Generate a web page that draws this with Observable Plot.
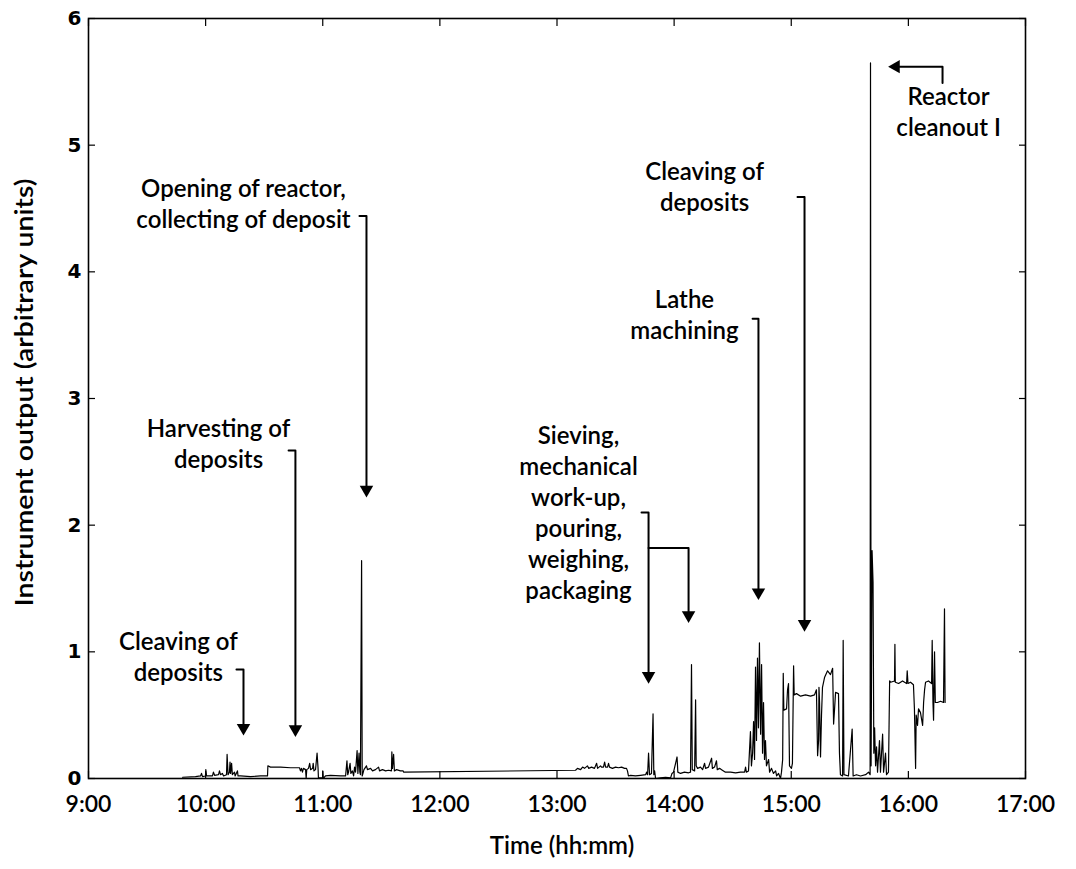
<!DOCTYPE html>
<html><head><meta charset="utf-8">
<script src="https://cdn.jsdelivr.net/npm/d3@7"></script>
<script src="https://cdn.jsdelivr.net/npm/@observablehq/plot@0.6"></script>
<style>
body{margin:0;background:#fff;}
#chart svg{display:block}
</style></head><body><div id="chart"></div>
<script>
// Readings: [minutes after 09:00, instrument output]
const morningReadings = [[48.2,0.01],[54.8,0.015],[57.4,0.02],[57.9,0.04],[58.4,0.015],[59.9,0.02],[60.1,0.07],[60.5,0.02],[63.5,0.02],[64.0,0.05],[64.6,0.025],[66.6,0.03],[67.1,0.06],[67.6,0.03],[68.6,0.04],[69.2,0.02],[70.7,0.03],[71.0,0.19],[71.5,0.03],[72.2,0.05],[72.5,0.13],[72.8,0.04],[73.3,0.12],[73.7,0.03],[74.8,0.05],[75.1,0.02],[76.3,0.06],[76.6,0.02],[77.9,0.02],[83.0,0.015],[88.1,0.02],[91.7,0.02],[91.9,0.10],[93.2,0.09],[98.4,0.09],[103.5,0.085],[108.1,0.085],[108.6,0.06],[109.1,0.08],[109.6,0.05],[110.1,0.08],[111.2,0.07],[111.5,0.0],[111.8,0.07],[112.7,0.08],[113.3,0.12],[113.8,0.07],[114.8,0.08],[115.1,0.12],[115.5,0.06],[116.3,0.07],[117.1,0.20],[117.6,0.08],[117.8,0.0],[118.3,0.005],[119.9,0.005],[120.0,0.06],[120.3,0.0],[121.4,0.02],[124.0,0.025],[129.1,0.02],[131.7,0.02],[132.4,0.14],[132.8,0.03],[133.2,0.05],[134.0,0.12],[134.4,0.04],[135.2,0.06],[135.8,0.02],[136.3,0.09],[136.8,0.05],[137.6,0.22],[138.0,0.04],[138.6,0.20],[139.0,0.05],[139.3,0.03],[139.9,1.72],[140.2,0.02],[140.6,0.04],[141.1,0.07],[142.4,0.10],[142.9,0.07],[144.5,0.08],[145.5,0.06],[147.0,0.07],[148.6,0.09],[149.1,0.06],[150.6,0.07],[152.2,0.06],[153.7,0.065],[155.2,0.06],[155.4,0.21],[155.7,0.08],[156.3,0.19],[156.7,0.06],[157.8,0.07],[159.8,0.06],[161.2,0.06],[161.4,0.05]];
const middayReadings = [[249.5,0.065],[250.5,0.08],[252.1,0.07],[253.1,0.09],[254.1,0.08],[255.6,0.10],[256.2,0.08],[257.7,0.09],[259.2,0.08],[260.3,0.12],[260.8,0.08],[262.3,0.10],[262.8,0.09],[263.8,0.09],[264.4,0.13],[264.9,0.09],[265.9,0.09],[266.4,0.12],[266.9,0.09],[268.4,0.08],[270.0,0.09],[271.5,0.085],[273.1,0.09],[274.6,0.08],[275.6,0.08],[276.1,0.06],[276.6,0.02],[277.7,0.025],[280.2,0.02],[282.8,0.025],[285.4,0.03],[285.9,0.05],[286.4,0.03],[286.9,0.20],[287.4,0.03],[288.4,0.04],[289.2,0.51],[289.6,0.03],[290.0,0.06],[290.5,0.0],[293.0,0.005],[295.6,0.01],[298.2,0.005],[298.9,0.04],[299.7,0.05],[301.5,0.17],[301.9,0.05],[303.3,0.04],[305.3,0.05],[307.4,0.045],[308.4,0.05],[308.9,0.90],[309.3,0.07],[310.5,0.06],[311.0,0.62],[311.3,0.10],[312.0,0.08],[313.5,0.09],[314.6,0.07],[315.6,0.12],[316.1,0.08],[317.6,0.09],[319.2,0.16],[319.6,0.08],[320.7,0.09],[321.7,0.14],[322.1,0.07],[323.3,0.08],[324.3,0.07],[325.3,0.06],[326.3,0.05],[328.9,0.05],[331.5,0.045],[334.0,0.05],[336.1,0.05],[336.6,0.09],[337.0,0.05],[338.1,0.06],[339.1,0.37],[339.6,0.10],[340.2,0.20],[340.7,0.45],[341.2,0.15],[341.7,0.88],[342.2,0.30],[342.7,0.95],[343.2,0.40],[343.7,1.07],[344.3,0.35],[344.8,0.90],[345.3,0.20],[345.8,0.60],[346.3,0.15],[346.8,0.30],[347.3,0.10],[348.4,0.15],[348.9,0.05],[349.9,0.08],[350.9,0.04],[352.0,0.06],[352.5,0.02],[353.5,0.04],[354.5,0.0]];
const lateReadings = [[355.0,0.05],[355.6,0.15],[355.9,0.83],[356.2,0.54],[357.6,0.55],[358.1,0.70],[358.6,0.75],[359.1,0.10],[360.1,0.08],[360.6,0.12],[361.2,0.89],[361.5,0.66],[362.7,0.67],[364.8,0.65],[367.3,0.66],[369.9,0.65],[371.9,0.66],[372.9,0.70],[373.5,0.18],[374.0,0.30],[374.2,0.72],[374.5,0.60],[375.0,0.17],[375.5,0.50],[376.0,0.72],[377.1,0.80],[378.6,0.85],[380.1,0.82],[381.2,0.87],[381.7,0.43],[382.2,0.55],[382.7,0.68],[384.2,0.67],[384.7,0.20],[385.2,0.03],[386.3,0.02],[386.6,1.09],[387.0,0.03],[389.3,0.02],[391.2,0.39],[391.7,0.02],[393.4,0.03],[395.5,0.02],[398.1,0.03],[399.6,0.05],[400.4,0.03],[400.6,5.65],[400.9,0.10],[401.4,1.80],[401.9,1.55],[402.3,0.20],[402.7,0.40],[403.2,0.10],[403.7,0.25],[404.2,0.05],[405.2,0.30],[405.7,0.05],[406.8,0.35],[407.3,0.05],[408.3,0.20],[408.8,0.03],[409.8,0.05],[410.4,0.77],[410.9,0.76],[412.9,0.77],[413.1,1.06],[413.3,0.76],[415.0,0.75],[417.0,0.77],[419.1,0.75],[419.4,0.85],[419.8,0.75],[421.1,0.76],[422.6,0.74],[423.1,0.55],[423.7,0.08],[424.0,0.50],[424.7,0.42],[425.2,0.55],[426.2,0.52],[427.3,0.42],[427.8,0.60],[428.3,0.70],[428.8,0.76],[430.3,0.77],[431.9,0.75],[432.2,1.09],[432.6,0.60],[432.9,0.46],[433.4,1.00],[433.8,0.60],[434.9,0.60],[436.5,0.61],[438.0,0.60],[438.5,1.34],[438.8,0.60]];

const xTickLabels = ["9:00","10:00","11:00","12:00","13:00","14:00","15:00","16:00","17:00"];
const yTicks = [0,1,2,3,4,5,6];

// Annotations: label text, centre (minutes after 09:00), centre value
const noteTexts = ["Cleaving of\ndeposits","Harvesting of\ndeposits","Opening of reactor,\ncollecting of deposit","Sieving,\nmechanical\nwork-up,\npouring,\nweighing,\npackaging","Lathe\nmachining","Cleaving of\ndeposits","Reactor\ncleanout I"];
const noteMin = [46.0, 66.6, 79.4, 251.0, 305.3, 315.6, 440.6];
const noteVal = [0.97, 2.65, 4.55, 2.11, 3.67, 4.68, 5.27];

// Downward arrows: shaft minute, hook minute, top value, head value
const arrowMin  = [79.4, 106.0, 142.4, 286.9, 343.2, 366.8];
const arrowHook = [75.8, 102.5, 138.8, 283.3, 340.2, 363.2];
const arrowTop  = [0.86, 2.59, 4.44, 2.10, 3.63, 4.59];
const arrowHead = [0.40, 0.39, 2.28, 0.81, 1.47, 1.22];
// Branch of the sieving arrow
const branchFromMin = 286.9, branchToMin = 307.4, branchVal = 1.82, branchHead = 1.29;
// Reactor cleanout arrow (points left)
const reactorMin = 437.5, reactorLow = 5.49, reactorHigh = 5.62, reactorHeadMin = 413.6;

const base = new Date(2000, 0, 1, 9, 0, 0);
const at = m => new Date(base.getTime() + m * 60000);
const parseTick = s => { const [h, mm] = s.split(":").map(Number); return at((h - 9) * 60 + mm); };
const xTicks = xTickLabels.map(parseTick);

const series = [...morningReadings, ...middayReadings, ...lateReadings].map(([m, v]) => ({t: at(m), v}));

const notes = noteTexts.map((text, i) => ({text, t: at(noteMin[i]), v: noteVal[i]}));

const arrowPts = [];
const heads = [];
arrowMin.forEach((m, i) => {
  arrowPts.push({g: i, t: at(arrowHook[i]), v: arrowTop[i]});
  arrowPts.push({g: i, t: at(m), v: arrowTop[i]});
  arrowPts.push({g: i, t: at(m), v: arrowHead[i]});
  heads.push({t: at(m), v: arrowHead[i], rot: 180});
});
arrowPts.push({g: 10, t: at(branchFromMin), v: branchVal});
arrowPts.push({g: 10, t: at(branchToMin), v: branchVal});
arrowPts.push({g: 10, t: at(branchToMin), v: branchHead});
heads.push({t: at(branchToMin), v: branchHead, rot: 180});
arrowPts.push({g: 11, t: at(reactorMin), v: reactorLow});
arrowPts.push({g: 11, t: at(reactorMin), v: reactorHigh});
arrowPts.push({g: 11, t: at(reactorHeadMin), v: reactorHigh});
heads.push({t: at(reactorHeadMin), v: reactorHigh, rot: 270});

const fmt = d => d.getHours() + ":" + String(d.getMinutes()).padStart(2, "0");

const chart = Plot.plot({
  width: 1076, height: 869,
  marginLeft: 88, marginRight: 51, marginTop: 18, marginBottom: 91,
  style: {background: "white", color: "black", fontFamily: "Lato, sans-serif"},
  x: {type: "time", domain: [xTicks[0], xTicks[xTicks.length - 1]]},
  y: {domain: [0, 6]},
  marks: [
    Plot.axisX({anchor: "bottom", ticks: xTicks, tickFormat: fmt, tickSize: -7, tickPadding: 24, label: null,
      fontSize: 23, fontFamily: "Lato, sans-serif", fontWeight: 600, strokeWidth: 1.2}),
    Plot.axisX({anchor: "top", ticks: xTicks, tickFormat: () => "", tickSize: -7, label: null, strokeWidth: 1.2}),
    Plot.axisY({anchor: "left", ticks: yTicks, tickFormat: d => String(d), tickSize: -7, tickPadding: 14, label: null,
      fontSize: 20, fontFamily: "DejaVu Sans, sans-serif", fontWeight: "bold", strokeWidth: 1.2}),
    Plot.axisY({anchor: "right", ticks: yTicks, tickFormat: () => "", tickSize: -7, label: null, strokeWidth: 1.2}),
    Plot.line(series, {x: "t", y: "v", stroke: "black", strokeWidth: 1.2, curve: "linear"}),
    Plot.frame({stroke: "black", strokeWidth: 1.6}),
    Plot.line(arrowPts, {x: "t", y: "v", z: "g", stroke: "black", strokeWidth: 2}),
    Plot.dot(heads, {x: "t", y: "v", symbol: "triangle", rotate: "rot", r: 5, fill: "black", stroke: null}),
    Plot.text(notes, {x: "t", y: "v", text: "text", fontSize: 24, fontWeight: 600, fontFamily: "Lato, sans-serif",
      lineHeight: 1.29, textAnchor: "middle", lineAnchor: "middle", fill: "black"}),
    Plot.text(["Time (hh:mm)"], {frameAnchor: "bottom", dx: 5, dy: 75, fontSize: 24, fontWeight: 600, fontFamily: "Lato, sans-serif", fill: "black"}),
    Plot.text(["Instrument output (arbitrary units)"], {frameAnchor: "left", dx: -63, dy: -6, rotate: -90, textAnchor: "middle",
      fontSize: 24, fontWeight: 600, fontFamily: "Lato, sans-serif", fill: "black", className: "ylabel"})
  ]
});
document.getElementById("chart").appendChild(chart);
const yl = chart.querySelector(".ylabel text");
if (yl) { yl.setAttribute("textLength", "428"); yl.setAttribute("lengthAdjust", "spacingAndGlyphs"); }
</script>
</body></html>
